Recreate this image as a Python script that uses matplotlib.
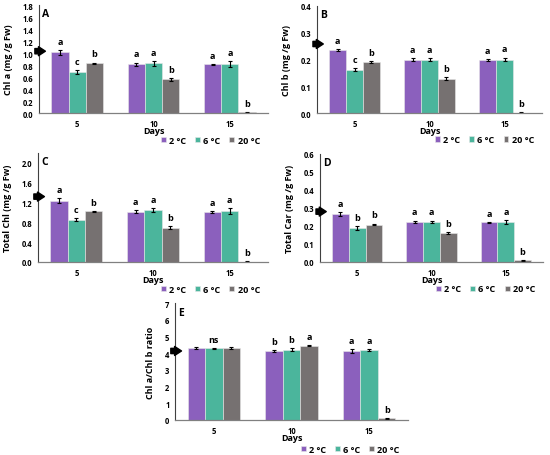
import numpy as np
import matplotlib.pyplot as plt

plt.rcParams['font.family'] = ['Open Sans', 'DejaVu Sans']
plt.rcParams['font.weight'] = 'bold'

days = ['5', '10', '15']
temps = ['2 °C', '6 °C', '20 °C']
colors = ['#8b60bd', '#4bb59c', '#767171']

# panel A: Chl a
chla = [[1.01, 0.81, 0.81], [0.68, 0.83, 0.82], [0.83, 0.56, 0.01]]
chla_err = [[0.04, 0.03, 0.01], [0.03, 0.04, 0.05], [0.01, 0.02, 0.005]]
chla_let = [['a', 'a', 'a'], ['c', 'a', 'a'], ['b', 'b', 'b']]

# panel B: Chl b
chlb = [[0.235, 0.200, 0.198], [0.162, 0.200, 0.200], [0.190, 0.128, 0.001]]
chlb_err = [[0.005, 0.004, 0.005], [0.005, 0.004, 0.007], [0.004, 0.005, 0.001]]
chlb_let = [['a', 'a', 'a'], ['c', 'a', 'a'], ['b', 'b', 'b']]

# panel C: total chl
tchl = [[1.24, 1.01, 1.00], [0.85, 1.04, 1.02], [1.02, 0.69, 0.01]]
tchl_err = [[0.05, 0.03, 0.02], [0.03, 0.04, 0.06], [0.01, 0.03, 0.005]]
tchl_let = [['a', 'a', 'a'], ['c', 'a', 'a'], ['b', 'b', 'b']]

# panel D: total carotenoids
tcar = [[0.268, 0.222, 0.221], [0.190, 0.222, 0.221], [0.208, 0.160, 0.010]]
tcar_err = [[0.010, 0.008, 0.003], [0.010, 0.008, 0.010], [0.005, 0.005, 0.002]]
tcar_let = [['a', 'a', 'a'], ['b', 'a', 'a'], ['b', 'b', 'b']]

# panel E: chl a / chl b
ratio = [[4.30, 4.14, 4.10], [4.28, 4.20, 4.18], [4.32, 4.45, 0.10]]
ratio_err = [[0.04, 0.05, 0.12], [0.02, 0.10, 0.08], [0.05, 0.04, 0.02]]
ratio_let = [['', 'b', 'a'], ['ns', 'b', 'a'], ['', 'a', 'b']]

# initial value (arrow)
arrows = [1.03, 0.258, 1.32, 0.28, 4.13]

W, H = 550, 456
fig = plt.figure(figsize=(W / 100, H / 100), dpi=100)


def px_axes(l, r, t, b):
    return fig.add_axes([l / W, 1 - b / H, (r - l) / W, (b - t) / H])


def panel(ax, vals, errs, lets, ylim, yticks, fmt, ylabel, tag, arrow):
    x = np.arange(len(days))
    w = 0.225
    for i in range(3):
        ax.bar(x + (i - 1) * w, vals[i], w, color=colors[i], label=temps[i],
               edgecolor='#e8e8e8', linewidth=0.4,
               yerr=errs[i], error_kw=dict(ecolor='black', elinewidth=0.8,
                                           capsize=1.5, capthick=0.8))
        for j in range(3):
            if lets[i][j]:
                ax.annotate(lets[i][j], (x[j] + (i - 1) * w, vals[i][j] + errs[i][j]),
                            xytext=(0, 3), textcoords='offset points',
                            ha='center', va='bottom', fontsize=6.5, fontweight='bold')
    ax.set_xlim(-0.5, 2.5)
    ax.set_ylim(*ylim)
    ax.set_yticks(yticks)
    ax.set_yticklabels([fmt.format(v) for v in yticks])
    ax.set_xticks(x)
    ax.set_xticklabels(days)
    ax.tick_params(length=0, labelsize=5.5, pad=4)
    for s in ['top', 'right']:
        ax.spines[s].set_visible(False)
    ax.spines['left'].set_color('#404040')
    ax.spines['bottom'].set_color('#808080')
    ax.spines['left'].set_linewidth(0.8)
    ax.spines['bottom'].set_linewidth(0.9)
    ax.set_ylabel(ylabel, fontsize=6.5, fontweight='bold', labelpad=7)
    ax.set_xlabel('Days', fontsize=6.5, fontweight='bold', labelpad=-1)
    ax.text(0.015, 0.97, tag, transform=ax.transAxes, fontsize=7.5,
            fontweight='bold', va='top', ha='left')
    ax.annotate('', xy=(0.028, arrow), xytext=(-0.018, arrow),
                xycoords=('axes fraction', 'data'),
                textcoords=('axes fraction', 'data'),
                arrowprops=dict(arrowstyle='simple,head_width=0.65,head_length=0.5,tail_width=0.38',
                                color='black', shrinkA=0, shrinkB=0, mutation_scale=10),
                annotation_clip=False)
    ax.legend(loc='center right', bbox_to_anchor=(0.98, -0.25), ncol=3, frameon=False,
              fontsize=6.5, handlelength=0.55, handleheight=0.55, handletextpad=0.35,
              columnspacing=1.0, borderaxespad=0)


axA = px_axes(39, 268, 6, 114)
panel(axA, chla, chla_err, chla_let, (0, 1.8), np.arange(0, 1.81, 0.2), '{:.1f}',
      'Chl a (mg /g Fw)', 'A', arrows[0])

axB = px_axes(317, 542, 7, 114)
panel(axB, chlb, chlb_err, chlb_let, (0, 0.4), np.arange(0, 0.41, 0.1), '{:.1f}',
      'Chl b (mg /g Fw)', 'B', arrows[1])

axC = px_axes(38, 268, 154, 263)
panel(axC, tchl, tchl_err, tchl_let, (0, 2.2), np.arange(0, 2.01, 0.4), '{:.1f}',
      'Total Chl (mg /g Fw)', 'C', arrows[2])

axD = px_axes(320, 543, 155, 263)
panel(axD, tcar, tcar_err, tcar_let, (0, 0.6), np.arange(0, 0.61, 0.1), '{:.1f}',
      'Total Car (mg /g Fw)', 'D', arrows[3])

axE = px_axes(175, 408, 304, 421)
panel(axE, ratio, ratio_err, ratio_let, (0, 7), np.arange(0, 8, 1), '{:.0f}',
      'Chl a/Chl b ratio', 'E', arrows[4])

fig.savefig('out.png', dpi=100)
